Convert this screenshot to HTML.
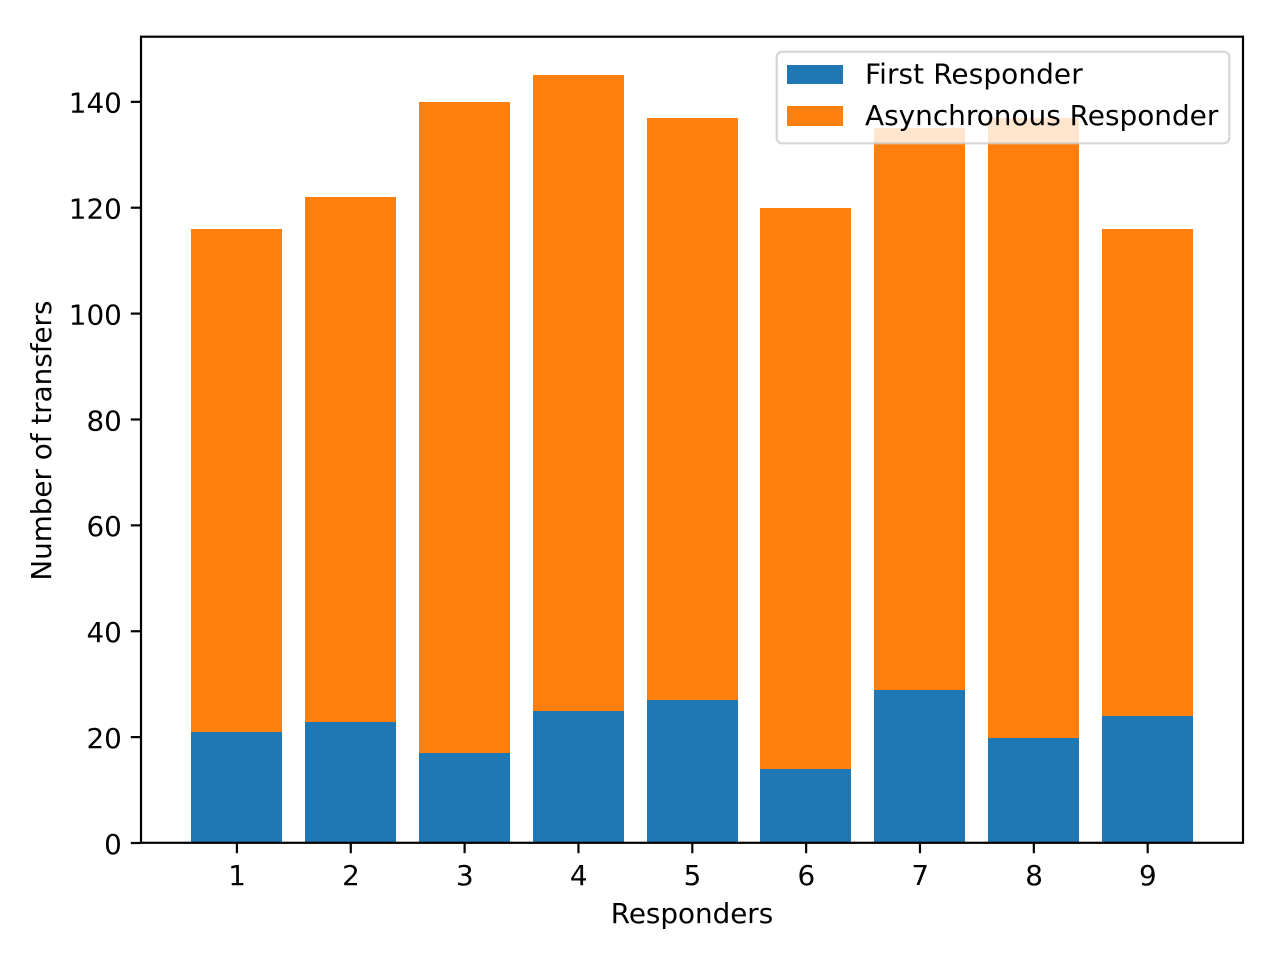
<!DOCTYPE html>
<html>
<head>
<meta charset="utf-8">
<style>
html,body{margin:0;padding:0;background:#fff;}
svg{display:block;}
text{font-family:"DejaVu Sans",sans-serif;font-size:27.78px;fill:#000;}
</style>
</head>
<body>
<svg id="chart" xmlns="http://www.w3.org/2000/svg" width="1280" height="960" viewBox="0 0 1280 960"></svg>
<script>
const categories = [1, 2, 3, 4, 5, 6, 7, 8, 9];
const firstResponder = [21, 23, 17, 25, 27, 14, 29, 20, 24];
const asyncResponder = [95, 99, 123, 120, 110, 106, 106, 117, 92];
const yTickValues = [0, 20, 40, 60, 80, 100, 120, 140];
const legendLabels = ['First Responder', 'Asynchronous Responder'];
const seriesColors = ['#1f77b4', '#ff7f0e'];

const svg = document.getElementById('chart');
const NS = 'http://www.w3.org/2000/svg';
const plot = {left: 141, right: 1243, top: 37, bottom: 843};
const yMax = 152.25;
const xMin = 0.16, xMax = 9.84;
const barWidth = 0.8;

function xScale(v) { return plot.left + (v - xMin) / (xMax - xMin) * (plot.right - plot.left); }
function yScale(v) { return plot.bottom - v / yMax * (plot.bottom - plot.top); }
function make(tag, attrs, parent) {
  const el = document.createElementNS(NS, tag);
  for (const k in attrs) el.setAttribute(k, attrs[k]);
  (parent || svg).appendChild(el);
  return el;
}

categories.forEach(function (c, i) {
  const x0 = Math.round(xScale(c - barWidth / 2) + 0.1), x1 = Math.round(xScale(c + barWidth / 2) + 0.1);
  const yA = Math.round(yScale(firstResponder[i]) + 0.4);
  const yB = Math.round(yScale(firstResponder[i] + asyncResponder[i]));
  const b1 = make('rect', {x: x0, y: yA, width: x1 - x0, height: plot.bottom - yA, fill: seriesColors[0], 'shape-rendering': 'crispEdges'});
  
  
  const b2 = make('rect', {x: x0, y: yB, width: x1 - x0, height: yA - yB, fill: seriesColors[1], 'shape-rendering': 'crispEdges'});
  
  
});

const frame = make('rect', {x: plot.left, y: plot.top - 0.3, width: plot.right - plot.left, height: plot.bottom - plot.top + 0.1, fill: 'none', stroke: '#000', 'stroke-width': 2.2});



categories.forEach(function (c) {
  const x = xScale(c) + 0.3;
  const t = make('line', {x1: x, x2: x, y1: plot.bottom, y2: plot.bottom + 10.2, stroke: '#000', 'stroke-width': 2.2});
  
  
  const l = make('text', {x: x + 0.2, y: 885, 'text-anchor': 'middle'});
  l.textContent = c;
  
  
});

yTickValues.forEach(function (v) {
  const y = yScale(v);
  const t = make('line', {x1: plot.left - 10.2, x2: plot.left, y1: y, y2: y, stroke: '#000', 'stroke-width': 2.2});
  
  
  const l = make('text', {x: 121.8, y: y + 10.8, 'text-anchor': 'end'});
  l.textContent = v;
  
  
});

const xTitle = make('text', {x: 692, y: 923, 'text-anchor': 'middle'});
xTitle.textContent = 'Responders';



const yTitle = make('text', {x: 0, y: 0, 'text-anchor': 'middle', transform: 'translate(51,440.6) rotate(-90)'});
yTitle.textContent = 'Number of transfers';



const legend = make('g', {});


const legendBox = make('rect', {x: 776.7, y: 51.7, width: 452.6, height: 91.6, rx: 5.5, ry: 5.5, fill: 'rgba(255,255,255,0.8)', stroke: 'rgba(204,204,204,0.8)', 'stroke-width': 2.2}, legend);


legendLabels.forEach(function (name, i) {
  const sw = make('rect', {x: 787, y: 65 + i * 41, width: 56, height: 19 + i, fill: seriesColors[i], 'shape-rendering': 'crispEdges'}, legend);
  
  
  const tx = make('text', {x: 865, y: 83.6 + i * 41.2, style: 'font-size:27.92px;letter-spacing:' + (i === 0 ? '0.1px' : '0')}, legend);
  tx.textContent = name;
  
  
});
</script>
</body>
</html>
